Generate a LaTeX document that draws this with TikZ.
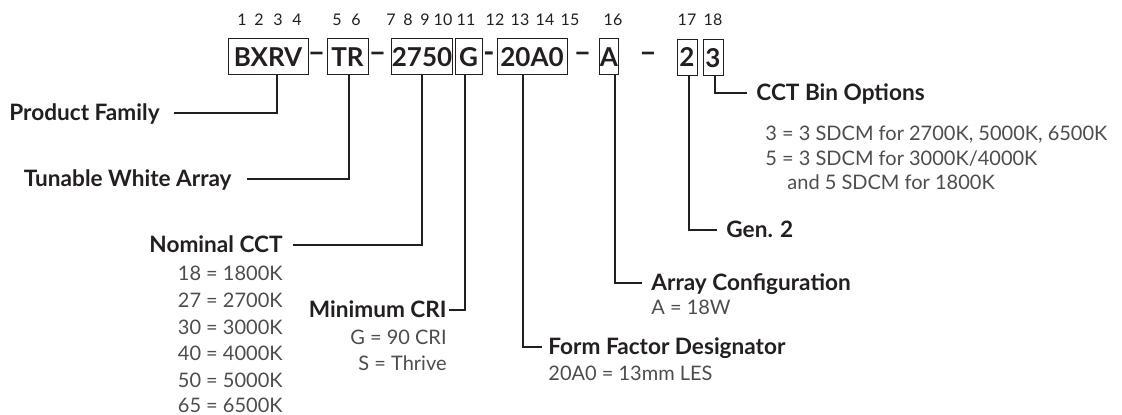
\documentclass[tikz,border=0pt]{standalone}
\usepackage{fontspec}
\setmainfont{Lato}
\definecolor{ink}{HTML}{231F20}
\definecolor{soft}{HTML}{4D4D4F}
\tikzset{
  codebox/.style={draw=ink, line width=0.5pt, inner sep=0pt, minimum height=18pt,
    font=\fontsize{13}{14}\selectfont\bfseries, text=ink},
  sep/.style={font=\fontsize{15}{16}\selectfont\bfseries, text=ink, inner sep=0pt},
  digit/.style={font=\fontsize{8}{9}\selectfont, text=ink, inner sep=0pt},
  hdr/.style={font=\fontsize{11.3}{12}\selectfont\bfseries, text=ink, inner sep=0pt,
    text height=8pt, text depth=0pt},
  val/.style={font=\fontsize{10}{11}\selectfont, text=soft, inner sep=0pt,
    text height=7.2pt, text depth=0pt},
  lead/.style={draw=ink, line width=0.6pt},
}
\begin{document}
\begin{tikzpicture}[x=0.5pt, y=-0.5pt]
\useasboundingbox (0,0) rectangle (1122,415);
% part number boxes
\node[codebox, minimum width=40pt] (bxrv) at (268,57) {BXRV};
\node[sep] (s1) at (316.5,57) {–};
\node[codebox, minimum width=20.5pt] (tr) at (347.5,57) {TR};
\node[sep] (s2) at (377.5,57) {–};
\node[codebox, minimum width=30pt] (cct) at (422,57) {2750};
\node[codebox, minimum width=13.5pt] (cri) at (468.5,57) {G};
\node[sep] (s3) at (489,57) {-};
\node[codebox, minimum width=35pt] (ff) at (532,57) {20A0};
\node[sep] (s4) at (582.5,57) {–};
\node[codebox, minimum width=8pt] (cfg) at (609,57) {A};
\node[sep] (s5) at (648,57) {–};
\node[codebox, minimum width=10pt] (gn) at (687,57.5) {2};
\node[codebox, minimum width=10pt] (bin) at (713,58) {3};
% digit positions
\foreach \n/\x in {1/242,2/259,3/278,4/297,5/337,6/356,7/391,8/408,9/425,10/443,
  11/466,12/495,13/520,14/545,15/570,16/613,17/687,18/713}
  \node[digit] (p\n) at (\x,20) {\n};

% left side
\node[hdr, anchor=east] (fam) at (160,113) {Product Family};
\draw[lead, shorten >=7pt] ([xshift=4.5pt]bxrv.south) |- (fam.east);
\node[hdr, anchor=east] (twa) at (232,179) {Tunable White Array};
\draw[lead, shorten >=7.5pt] ([xshift=0.75pt]tr.south) |- (twa.east);
\node[hdr, anchor=east] (nom) at (283,245) {Nominal CCT};
\draw[lead, shorten >=5pt] (cct.south) |- (nom.east);
\foreach \v/\k/\y in {18/1800/273,27/2700/300,30/3000/327,40/4000/353,50/5000/380,65/6500/405}
  \node[val, anchor=east] (nom\v) at (283,\y) {\v\ = \k K};
\node[hdr, anchor=east] (mcri) at (447,310) {Minimum CRI};
\draw[lead, shorten >=1pt] ([xshift=-1.75pt]cri.south) |- (mcri.east);
\node[val, anchor=east] (crig) at (447,337) {G = 90 CRI};
\node[val, anchor=east] (cris) at (447,363) {S = Thrive};

% right side
\node[hdr, anchor=west] (ffd) at (548,347) {Form Factor Designator};
\draw[lead, shorten >=3pt] ([xshift=-4.5pt]ff.south) |- (ffd.west);
\node[val, anchor=west] (ffv) at (548,373) {20A0 = 13mm LES};
\node[hdr, anchor=west] (acfg) at (651,283) {Array Configuration};
\draw[lead, shorten >=4.5pt] ([xshift=3pt]cfg.south) |- (acfg.west);
\node[val, anchor=west] (acv) at (651,307) {A = 18W};
\node[hdr, anchor=west] (gen) at (726,230) {Gen. 2};
\draw[lead, shorten >=4.5pt] ([xshift=1pt]gn.south) |- (gen.west);
\node[hdr, anchor=west] (cbo) at (756,93) {CCT Bin Options};
\draw[lead, shorten >=4.5pt] ([xshift=1pt]bin.south) |- (cbo.west);
\node[val, anchor=west] (cb3) at (765,133) {3 = 3 SDCM for 2700K, 5000K, 6500K};
\node[val, anchor=west] (cb5) at (765,158) {5 = 3 SDCM for 3000K/4000K};
\node[val, anchor=west] (cb5b) at (787,182) {and 5 SDCM for 1800K};
\end{tikzpicture}
\end{document}
